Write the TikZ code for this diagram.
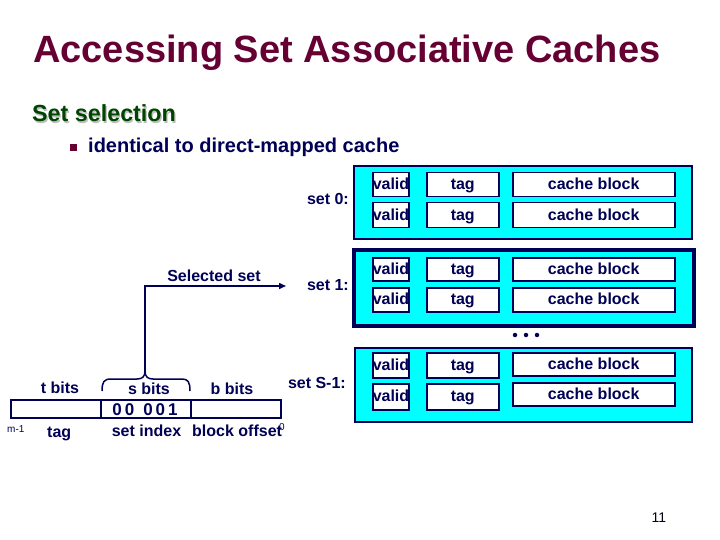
\documentclass[tikz,border=0pt]{standalone}
\usepackage{fontspec}
\setmainfont{Liberation Sans}
\usetikzlibrary{arrows.meta}
\definecolor{navy}{HTML}{000055}
\definecolor{titlered}{HTML}{660033}
\definecolor{dgreen}{HTML}{004400}
\definecolor{cyanf}{HTML}{00FFFF}
\begin{document}
\begin{tikzpicture}[x=1pt,y=-1pt,
  setbox/.style={draw=navy, fill=cyanf, line width=2pt, inner sep=0pt, anchor=north west},
  cell/.style={draw=navy, fill=white, line width=1.5pt, inner sep=0pt, anchor=north west,
    minimum height=24pt, text height=12.5pt, text depth=2.5pt, text=navy, font=\bfseries\fontsize{16}{16}\selectfont},
  validc/.style={cell, minimum width=36pt},
  tagc/.style={cell, minimum width=72pt},
  blockc/.style={cell, minimum width=162pt},
  lbl/.style={text=navy, inner sep=0pt, font=\bfseries\fontsize{16}{16}\selectfont},
  small/.style={text=navy, inner sep=0pt, font=\fontsize{10}{10}\selectfont},
  field/.style={draw=navy, line width=2pt, inner sep=0pt, anchor=north west, minimum height=18pt, minimum width=90pt},
  dot/.style={circle, fill=navy, inner sep=0pt, minimum size=4.5pt}
]
\useasboundingbox (0,0) rectangle (720,540);

% title and text
\node[anchor=base west, inner sep=0pt, text=titlered, font=\bfseries\fontsize{38}{40}\selectfont] (title) at (33,63) {Accessing Set Associative Caches};
\node[anchor=base west, inner sep=0pt, text=black!25, font=\bfseries\fontsize{23.3}{26}\selectfont] (subsh) at (33.2,123.2) {Set selection};
\node[anchor=base west, inner sep=0pt, text=dgreen, font=\bfseries\fontsize{23.3}{26}\selectfont] (sub) at (32,122) {Set selection};
\node[fill=titlered, inner sep=0pt, minimum size=7pt, anchor=north west] (bullet) at (70,144) {};
\node[anchor=base west, inner sep=0pt, text=navy, font=\bfseries\fontsize{20}{22}\selectfont] (item) at (88,153) {identical to direct-mapped cache};

% set 0
\node[setbox, minimum width=338pt, minimum height=73pt] (s0) at (353,165) {};
\node[validc, minimum height=24pt] (v01) at (372,172) {valid};
\node[tagc] (t01) at (426,172) {tag};
\node[blockc] (b01) at (512,172) {cache block};
\node[validc, minimum height=25pt] (v02) at (372,202) {valid};
\node[tagc, minimum height=25pt] (t02) at (426,202) {tag};
\node[blockc, minimum height=25pt] (b02) at (512,202) {cache block};
\node[lbl, anchor=base east] (l0) at (349,205) {set 0:};

% set 1
\node[setbox, line width=4pt, minimum width=340pt, minimum height=76pt] (s1) at (352,248) {};
\node[validc, minimum height=23pt] (v11) at (372,257) {valid};
\node[tagc, minimum height=23pt] (t11) at (426,257) {tag};
\node[blockc, minimum height=23pt] (b11) at (512,257) {cache block};
\node[validc] (v12) at (372,287) {valid};
\node[tagc] (t12) at (426,287) {tag};
\node[blockc] (b12) at (512,287) {cache block};
\node[lbl, anchor=base east] (l1) at (349,290) {set 1:};

% dots
\node[dot] (d1) at (515,335) {};
\node[dot] (d2) at (526,335) {};
\node[dot] (d3) at (537,335) {};

% set S-1
\node[setbox, minimum width=337pt, minimum height=74pt] (s2) at (354,347) {};
\node[validc, minimum height=25pt] (v21) at (372,352) {valid};
\node[tagc, minimum height=25pt] (t21) at (426,352) {tag};
\node[blockc, minimum height=23pt] (b21) at (512,352) {cache block};
\node[validc, minimum height=26pt] (v22) at (372,383) {valid};
\node[tagc, minimum height=26pt] (t22) at (426,383) {tag};
\node[blockc, minimum height=23pt] (b22) at (512,382) {cache block};
\node[lbl, anchor=base east] (l2) at (346,388) {set S-1:};

% address
\node[field] (ftag) at (10,399) {};
\node[field] (fset) at (100,399) {};
\node[field] (fblk) at (190,399) {};
\node[lbl, anchor=base, font=\bfseries\fontsize{17}{17}\selectfont] (bits) at (145,415) {0\hspace{3pt}0\hspace{9pt}0\hspace{3pt}0\hspace{3pt}1};
\node[lbl, anchor=base] (tb) at (60,393) {t bits};
\node[lbl, anchor=base] (sb) at (149,394) {s bits};
\node[lbl, anchor=base] (bb) at (232,394) {b bits};
\node[small, anchor=base west] (m1) at (7,432) {m-1};
\node[lbl, anchor=base west] (tg) at (47,437) {tag};
\node[lbl, anchor=base] (si) at (146.5,436) {set index};
\node[lbl, anchor=base west] (bo) at (192,436) {block offset};
\node[small, anchor=base west] (z0) at (279,430) {0};

% brace and selection arrow
\coordinate (br) at (145,371);
\coordinate (sel) at (286,286);
\draw[navy, line width=1.5pt] (102,391) .. controls (102,382) and (104,379) .. (111,379) -- (137,379) .. controls (142,379) and (145,377) .. (br) .. controls (145,377) and (148,379) .. (153,379) -- (182,379) .. controls (188,379) and (190,382) .. (190,391);
\draw[navy, line width=1.5pt, -{Triangle[length=7pt,width=6pt]}] (br) |- (sel);
\node[lbl, anchor=base] (selt) at (214,281) {Selected set};

% page number
\node[anchor=base, inner sep=0pt, text=black!80!navy, font=\fontsize{14}{14}\selectfont] (pg) at (659,522) {11};
\end{tikzpicture}
\end{document}
